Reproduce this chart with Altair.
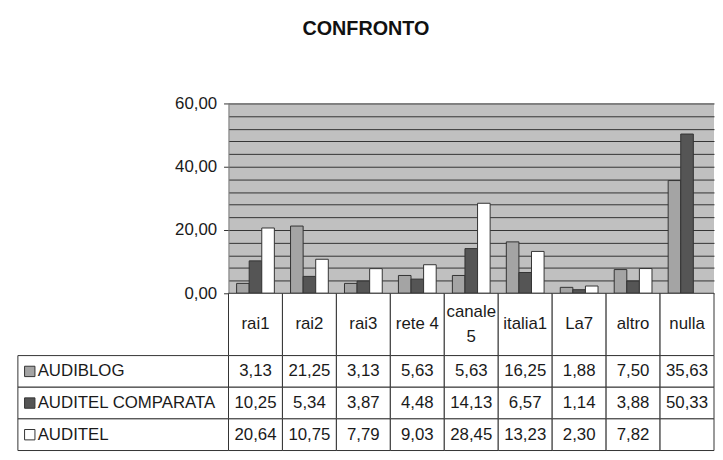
import altair as alt
import pandas as pd

categories = ["rai1", "rai2", "rai3", "rete 4", "canale 5", "italia1", "La7", "altro", "nulla"]
header_line1 = ["rai1", "rai2", "rai3", "rete 4", "canale", "italia1", "La7", "altro", "nulla"]
header_line2 = ["", "", "", "", "5", "", "", "", ""]
series = ["AUDIBLOG", "AUDITEL COMPARATA", "AUDITEL"]
audiblog = [3.13, 21.25, 3.13, 5.63, 5.63, 16.25, 1.88, 7.50, 35.63]
auditel_comparata = [10.25, 5.34, 3.87, 4.48, 14.13, 6.57, 1.14, 3.88, 50.33]
auditel = [20.64, 10.75, 7.79, 9.03, 28.45, 13.23, 2.30, 7.82, None]
series_colors = ["#a4a4a4", "#555555", "#ffffff"]
y_max = 60
grid_step = 4
label_step = 20

rows = []
for s, vals in zip(series, [audiblog, auditel_comparata, auditel]):
    for c, v in zip(categories, vals):
        rows.append({"category": c, "series": s, "value": v})
df = pd.DataFrame(rows)
hdr_df = pd.DataFrame({"category": categories, "l1": header_line1, "l2": header_line2})
leg_df = pd.DataFrame({"series": series})

color_scale = alt.Scale(domain=series, range=series_colors)
INK = "#1a1a1a"
LINE = "#333333"
W = 491
FS = 17

# ---- bar chart ----
bars = alt.Chart(df).transform_filter("isValid(datum.value)").mark_bar(
    stroke=LINE, strokeWidth=1
).encode(
    x=alt.X("category:N", sort=categories,
            scale=alt.Scale(paddingInner=0.3, paddingOuter=0.15), axis=None),
    xOffset=alt.XOffset("series:N", sort=series, scale=alt.Scale(paddingInner=0)),
    y=alt.Y("value:Q", scale=alt.Scale(domain=[0, y_max], nice=False),
            axis=alt.Axis(
                values=list(range(0, y_max + 1, grid_step)),
                title=None, grid=True, gridColor="#333333", gridWidth=1,
                labelExpr=f"datum.value % {label_step} === 0 ? replace(format(datum.value, '.2f'), '.', ',') : ''",
                labelFontSize=FS, labelColor=INK, labelPadding=7,
                tickSize=5, tickColor=LINE,
                tickOpacity={"condition": {"test": f"datum.value % {label_step} === 0", "value": 1}, "value": 0},
                domainColor="#808080",
            )),
    color=alt.Color("series:N", scale=color_scale, legend=None),
).properties(width=W, height=192, view=alt.ViewBackground(fill="#c0c0c0", stroke=None))

# ---- header row ----
x_tab = alt.X("category:N", sort=categories,
              scale=alt.Scale(paddingInner=0, paddingOuter=0), axis=None)
hbase = alt.Chart(hdr_df)
header = alt.layer(
    hbase.mark_rect(fill="white", stroke=LINE, strokeWidth=1).encode(x=x_tab),
    hbase.transform_filter("datum.l2 == ''").mark_text(
        fontSize=FS, baseline="middle", color=INK).encode(x=x_tab, text="l1:N"),
    hbase.transform_filter("datum.l2 != ''").mark_text(
        fontSize=FS, baseline="middle", dy=-12.5, color=INK).encode(x=x_tab, text="l1:N"),
    hbase.transform_filter("datum.l2 != ''").mark_text(
        fontSize=FS, baseline="middle", dy=12.5, color=INK).encode(x=x_tab, text="l2:N"),
).properties(width=W, height=63)

# ---- data table ----
y_tab = alt.Y("series:N", sort=series,
              scale=alt.Scale(paddingInner=0, paddingOuter=0), axis=None)
table = alt.layer(
    alt.Chart(df).mark_rect(fill="white", stroke=LINE, strokeWidth=1).encode(x=x_tab, y=y_tab),
    alt.Chart(df).transform_filter("isValid(datum.value)").transform_calculate(
        txt="replace(format(datum.value, '.2f'), '.', ',')"
    ).mark_text(fontSize=FS, color=INK).encode(x=x_tab, y=y_tab, text="txt:N"),
    alt.Chart(leg_df).mark_rect(fill="white", stroke=LINE, strokeWidth=1).encode(
        x=alt.value(-213), x2=alt.value(0), y=y_tab),
    alt.Chart(leg_df).mark_point(shape="square", filled=True, size=110, stroke=LINE,
                                 strokeWidth=1, opacity=1).encode(
        x=alt.value(-201), y=y_tab,
        color=alt.Color("series:N", scale=color_scale, legend=None)),
    alt.Chart(leg_df).mark_text(align="left", fontSize=FS, color=INK).encode(
        x=alt.value(-193), y=y_tab, text="series:N"),
).properties(width=W, height=96)

chart = alt.vconcat(bars, header, table, spacing=0, bounds="flush").resolve_scale(
    x="independent", y="independent", color="shared"
).properties(
    title=alt.Title("CONFRONTO", fontSize=20, fontWeight="bold", anchor="middle",
                    offset=56, color="#111111"),
    padding={"left": 9, "top": 9, "right": 0, "bottom": 0},
).configure(font="Liberation Sans", background="white").configure_view(stroke=None)

chart.save("out.html", embed_options={"renderer": "svg", "actions": False})
